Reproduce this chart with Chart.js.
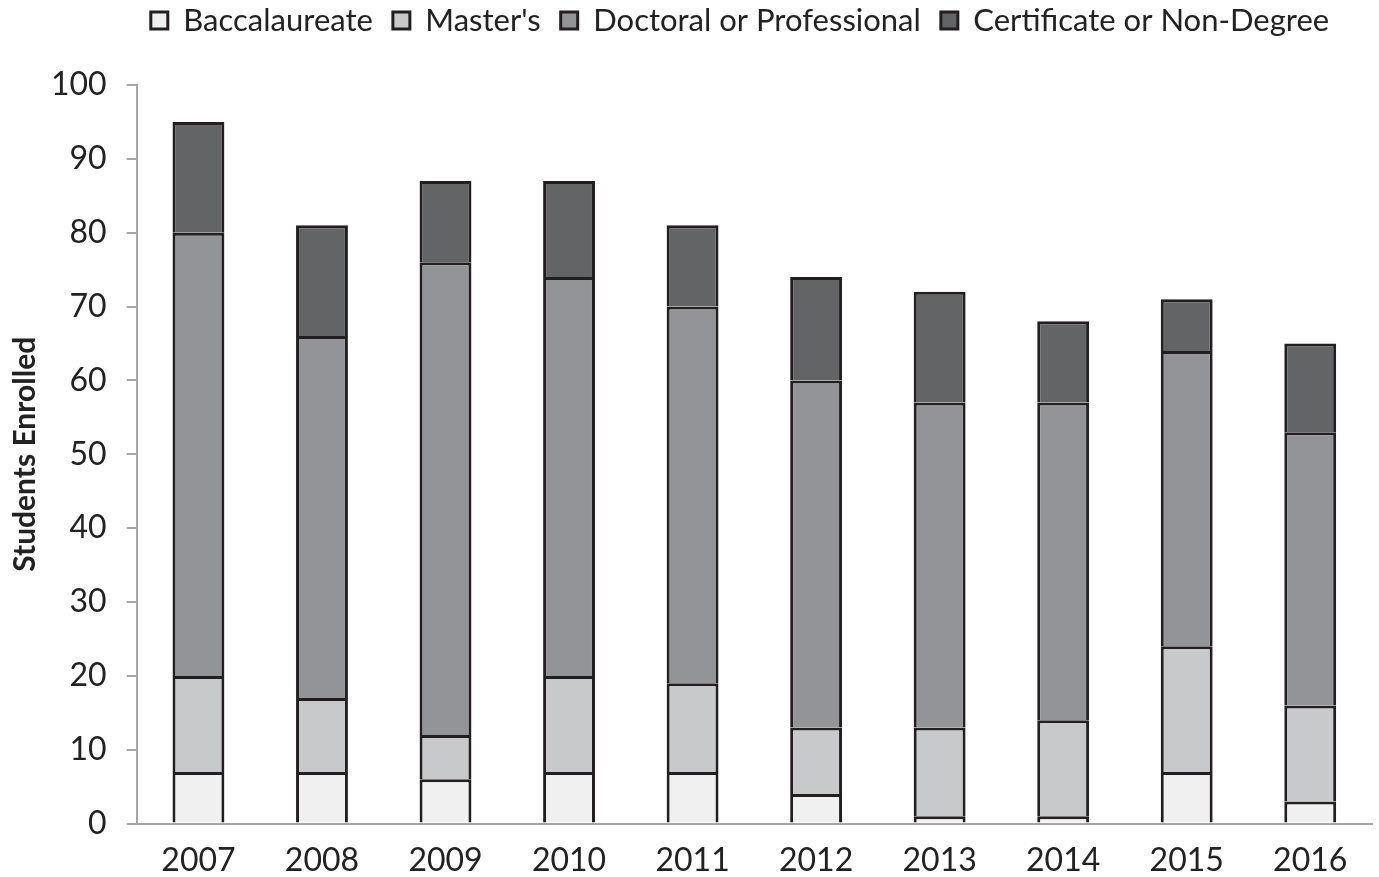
<!DOCTYPE html>
<html>
<head>
<meta charset="utf-8">
<script src="https://cdn.jsdelivr.net/npm/chart.js@4/dist/chart.umd.min.js"></script>
<style>
  html, body { margin: 0; padding: 0; background: #fff; }
  #wrap { width: 1379px; height: 877px; }
</style>
</head>
<body>
<div id="wrap"><canvas id="chart"></canvas></div>
<script>
// data
const years = ["2007", "2008", "2009", "2010", "2011", "2012", "2013", "2014", "2015", "2016"]
const baccalaureate = [7, 7, 6, 7, 7, 4, 1, 1, 7, 3]
const masters = [13, 10, 6, 13, 12, 9, 12, 13, 17, 13]
const doctoral = [60, 49, 64, 54, 51, 47, 44, 43, 40, 37]
const certificate = [15, 15, 11, 13, 11, 14, 15, 11, 7, 12]

const edge = "#231f20"
const axisGray = "#a6a6a6"

function series(label, data, color) {
    return {
        label: label,
        data: data,
        backgroundColor: color,
        borderColor: edge,
        borderWidth: 3,
        borderSkipped: "start",
        barPercentage: 0.42,
        categoryPercentage: 1
    }
}

// extra room between legend and plot, and nudge legend over the plot area
const legendTweak = {
    id: "legendTweak",
    beforeInit(chart) {
        const fit = chart.legend.fit
        chart.legend.fit = function() {
            fit.bind(chart.legend)()
            this.height += 39
        }
    },
    afterLayout(chart) {
        chart.legend.left += 54
        chart.legend.right += 54
    }
}

let ctx = document.getElementById("chart").getContext("2d")
let chart = new Chart(ctx, {
    type: "bar",
    data: {
        labels: years,
        datasets: [
            series("Baccalaureate", baccalaureate, "#f0f0f0"),
            series("Master's", masters, "#c8c9cb"),
            series("Doctoral or Professional", doctoral, "#939497"),
            series("Certificate or Non-Degree", certificate, "#636466")
        ]
    },
    plugins: [legendTweak],
    options: {
        responsive: true,
        maintainAspectRatio: false,
        animation: false,
        layout: { padding: { top: -15, right: 7, bottom: -13, left: 0 } },
        plugins: {
            tooltip: { enabled: false },
            legend: {
                position: "top",
                labels: {
                    color: "#222",
                    font: { family: "Lato", size: 31 },
                    boxWidth: 17,
                    boxHeight: 17,
                    padding: 20,
                    useBorderRadius: false
                }
            }
        },
        scales: {
            x: {
                stacked: true,
                grid: { display: false },
                border: { display: true, color: axisGray, width: 2 },
                ticks: { color: "#222", font: { family: "Lato", size: 32 }, padding: 10 }
            },
            y: {
                stacked: true,
                min: 0,
                max: 100,
                ticks: { stepSize: 10, color: "#222", font: { family: "Lato", size: 32 }, padding: 20 },
                grid: { drawOnChartArea: false, drawTicks: true, tickLength: 10, color: axisGray, lineWidth: 2 },
                border: { display: true, color: axisGray, width: 2 },
                title: {
                    display: true,
                    text: "Students Enrolled",
                    color: "#222",
                    font: { family: "Lato", size: 30, weight: "bold" },
                    padding: { top: 7, bottom: -12 }
                }
            }
        }
    }
})
</script>
</body>
</html>
